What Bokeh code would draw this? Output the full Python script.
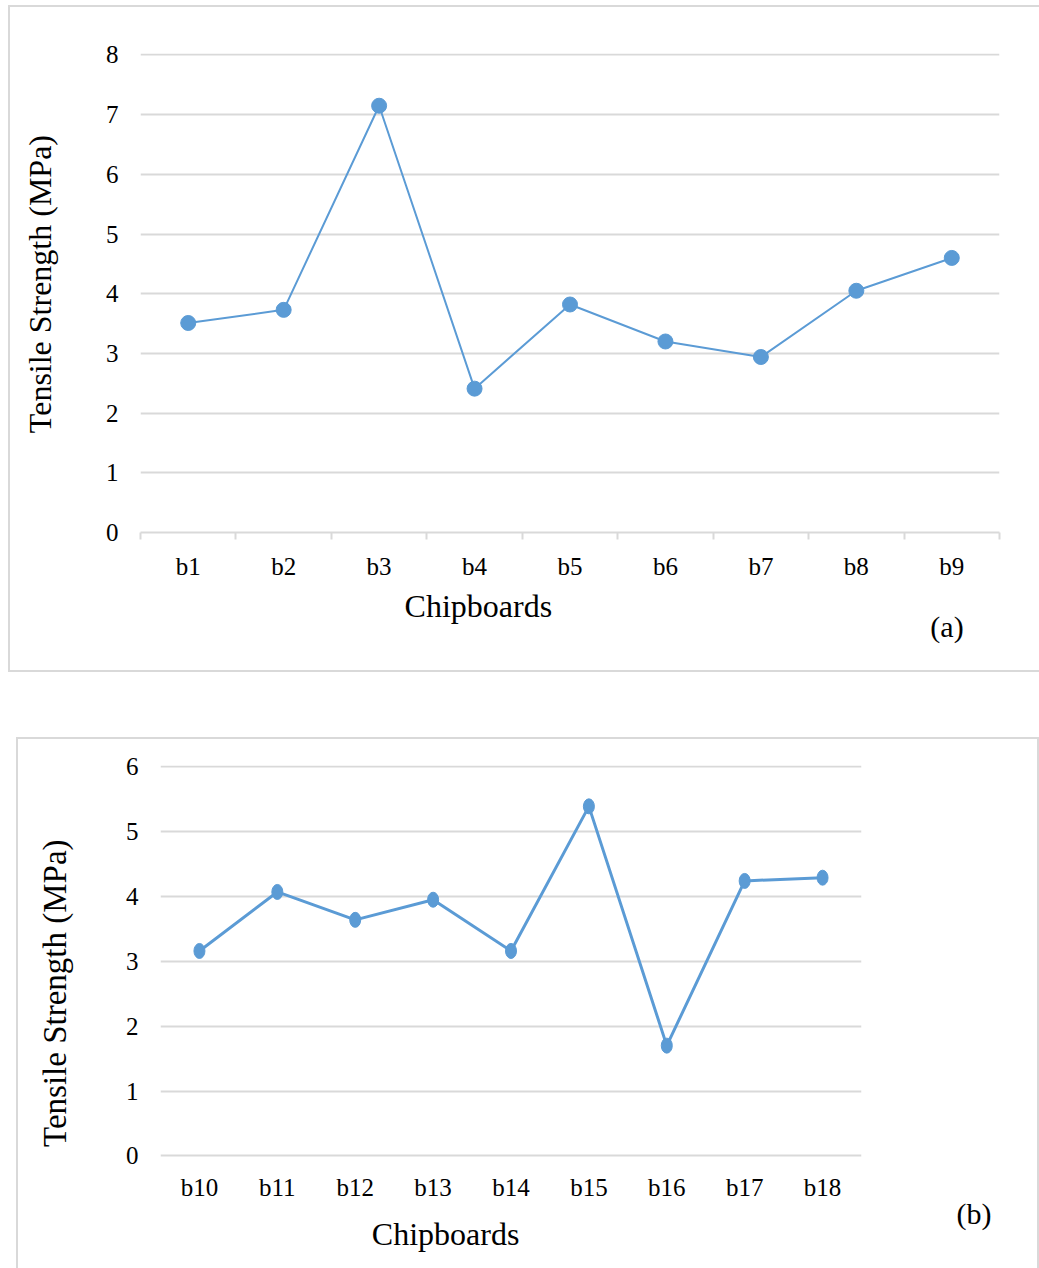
import math
from bokeh.plotting import figure
from bokeh.models import FixedTicker, LinearAxis, Title
from bokeh.embed import file_html
from bokeh.resources import INLINE

# ---------------- data ----------------
boards_a = ["b1", "b2", "b3", "b4", "b5", "b6", "b7", "b8", "b9"]
strength_a = [3.51, 3.73, 7.15, 2.41, 3.82, 3.20, 2.94, 4.05, 4.60]
yticks_a = [0, 1, 2, 3, 4, 5, 6, 7, 8]

boards_b = ["b10", "b11", "b12", "b13", "b14", "b15", "b16", "b17", "b18"]
strength_b = [3.16, 4.07, 3.64, 3.95, 3.16, 5.39, 1.70, 4.24, 4.29]
yticks_b = [0, 1, 2, 3, 4, 5, 6]

y_title = "Tensile Strength (MPa)"
x_title = "Chipboards"
panel_a = "(a)"
panel_b = "(b)"

FONT = "Liberation Serif"
BLUE = "#5b9bd5"
GRID = "#d9d9d9"
TXT = "#000000"


def base_fig(width, height, ml, mr, mt, mb, yr, shadow):
    p = figure(width=width, height=height, x_range=(0.5, 9.5), y_range=yr,
               output_backend="svg", toolbar_location=None,
               min_border_left=ml, min_border_right=mr,
               min_border_top=mt, min_border_bottom=mb)
    p.outline_line_color = None
    p.background_fill_color = None
    p.border_fill_color = None
    p.xgrid.grid_line_color = None
    p.ygrid.grid_line_color = GRID
    p.ygrid.grid_line_width = 2
    p.styles = {"box-shadow": shadow, "background-color": "#ffffff"}
    ya = p.yaxis[0]
    ya.axis_line_color = None
    ya.major_tick_line_color = None
    ya.minor_tick_line_color = None
    ya.major_tick_out = 0
    ya.major_tick_in = 0
    ya.major_label_standoff = 22
    ya.major_label_text_font = FONT
    ya.major_label_text_font_size = "25px"
    ya.major_label_text_color = TXT
    xa = p.xaxis[0]
    xa.major_label_text_font = FONT
    xa.major_label_text_font_size = "25px"
    xa.major_label_text_color = TXT
    xa.major_tick_out = 0
    xa.major_tick_in = 0
    xa.major_tick_line_color = None
    return p


def text_axis(p, side, pos, text, size, standoff, orientation="horizontal"):
    ax = LinearAxis(ticker=FixedTicker(ticks=[pos]), major_label_overrides={pos: text},
                    axis_line_color=None, major_tick_line_color=None,
                    minor_tick_line_color=None, major_tick_out=0, major_tick_in=0,
                    minor_tick_out=0, minor_tick_in=0,
                    major_label_standoff=standoff, major_label_text_font=FONT,
                    major_label_text_font_size=size, major_label_text_color=TXT,
                    major_label_orientation=orientation)
    p.add_layout(ax, side)
    return ax


# ---------------- panel (a) ----------------
shadow_a = ("inset 8px 0 0 0 #ffffff, inset 0 5px 0 0 #ffffff, "
            "inset 10px 0 0 0 #d9d9d9, inset 0 7px 0 0 #d9d9d9, inset 0 -2px 0 0 #d9d9d9")
xa_pos = list(range(1, len(boards_a) + 1))
pa = base_fig(1039, 672, 140, 40, 53, 140, (0, 8.025), shadow_a)
pa.yaxis[0].ticker = FixedTicker(ticks=yticks_a)
axa = pa.xaxis[0]
axa.ticker = FixedTicker(ticks=xa_pos, minor_ticks=[i + 0.5 for i in range(0, len(boards_a) + 1)])
axa.major_label_overrides = {i: b for i, b in zip(xa_pos, boards_a)}
axa.axis_line_color = GRID
axa.axis_line_width = 2
axa.minor_tick_out = 7
axa.minor_tick_in = 0
axa.minor_tick_line_color = GRID
axa.minor_tick_line_width = 2
axa.major_label_standoff = 13
pa.line(xa_pos, strength_a, line_color=BLUE, line_width=2)
pa.scatter(xa_pos, strength_a, size=15, fill_color=BLUE, line_color=BLUE)
text_axis(pa, "below", 4.04, x_title, "32px", 5)
text_axis(pa, "below", 8.95, panel_a, "30px", -17)
text_axis(pa, "left", 6.66, y_title, "32px", 62, orientation=math.pi / 2)

# ---------------- panel (b) ----------------
shadow_b = ("inset 16px 0 0 0 #ffffff, inset 0 65px 0 0 #ffffff, "
            "inset 18px 0 0 0 #d9d9d9, inset 0 67px 0 0 #d9d9d9, inset -2px 0 0 0 #d9d9d9")
xb_pos = list(range(1, len(boards_b) + 1))
pb = base_fig(1039, 596, 160, 178, 93, 111, (-0.025, 6.02), shadow_b)
pb.yaxis[0].ticker = FixedTicker(ticks=yticks_b)
axb = pb.xaxis[0]
axb.ticker = FixedTicker(ticks=xb_pos)
axb.major_label_overrides = {i: b for i, b in zip(xb_pos, boards_b)}
axb.axis_line_color = None
axb.minor_tick_line_color = None
axb.major_label_standoff = 16
pb.line(xb_pos, strength_b, line_color=BLUE, line_width=3)
pb.ellipse(xb_pos, strength_b, width=11, height=15, width_units="screen",
           height_units="screen", fill_color=BLUE, line_color=BLUE)
pb.add_layout(Title(text=panel_b, align="left", offset=796, text_font=FONT,
                    text_font_size="30px", text_font_style="normal",
                    text_color=TXT, standoff=-17), "below")
text_axis(pb, "below", 4.16, x_title, "32px", -6)
text_axis(pb, "left", 4.88, y_title, "33px", 67, orientation=math.pi / 2)

open("out.html", "w").write(file_html([pa, pb], INLINE))
